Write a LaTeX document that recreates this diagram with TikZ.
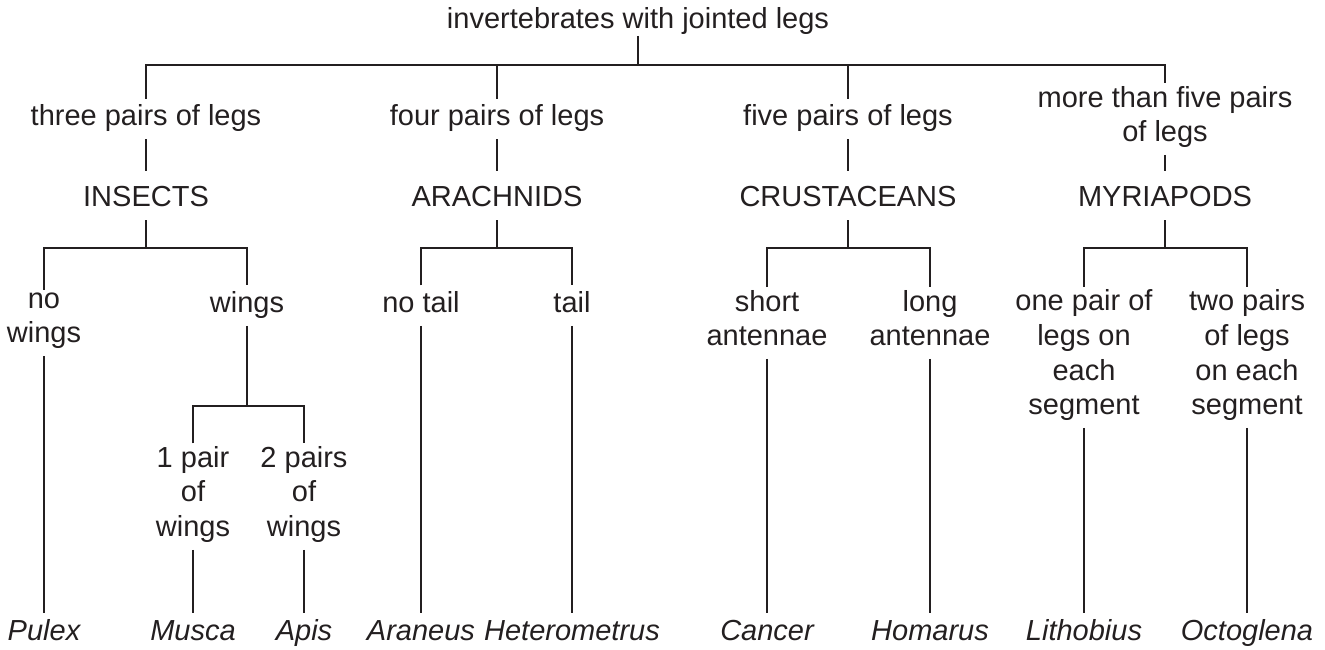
\documentclass[tikz,border=0pt]{standalone}
\usepackage{fontspec}
\setmainfont{Liberation Sans}
\definecolor{KeyInk}{HTML}{231F20}
\usepackage{tikz}
\usetikzlibrary{positioning}

\begin{document}
\begin{tikzpicture}[x=0.5pt, y=-0.5pt, line width=0.9pt, draw=KeyInk,
    every node/.style={text=KeyInk, font=\fontsize{14.5}{17.3}\selectfont, align=center,
      inner xsep=2pt, inner ysep=1pt,
      execute at begin node=\strut, execute at end node=\strut},
    toplbl/.style={inner ysep=0pt, text depth=3.5pt},
    grplbl/.style={text height=16.3pt, text depth=5.2pt},
    genus/.style={font=\fontsize{14.5}{17.3}\selectfont\itshape}]
  \useasboundingbox (0,0) rectangle (1325,649);
  % root and main groups
  \node[toplbl] (root) at (638,19.4) {invertebrates with jointed legs};
  \coordinate (top) at (638,65);
  \node (three) at (146,119) {three pairs of legs};
  \node (four) at (497,119) {four pairs of legs};
  \node (five) at (848,119) {five pairs of legs};
  \node (more) at (1165,119) {more than five pairs\\of legs};
  \node[grplbl] (ins) at (146,195.6) {INSECTS};
  \node[grplbl] (arach) at (497,195.6) {ARACHNIDS};
  \node[grplbl] (crust) at (848,195.6) {CRUSTACEANS};
  \node[grplbl] (myria) at (1165,195.6) {MYRIAPODS};
  \coordinate (insj) at (146,248);
  \coordinate (arj) at (497,248);
  \coordinate (crj) at (848,248);
  \coordinate (myj) at (1165,248);
  % second split
  \node (nowings) at (44,323) {no\\wings};
  \node (wings) at (247,305.6) {wings};
  \coordinate (wj) at (247,406);
  \node (pair1) at (193,496.6) {1 pair\\of\\wings};
  \node (pair2) at (304,496.6) {2 pairs\\of\\wings};
  \node (notail) at (421,305.6) {no tail};
  \node (tail) at (572,305.6) {tail};
  \node (short) at (767,323) {short\\antennae};
  \node (long) at (930,323) {long\\antennae};
  \node (onepr) at (1084,357.4) {one pair of\\legs on\\each\\segment};
  \node (twopr) at (1247,357.4) {two pairs\\of legs\\on each\\segment};
  % genera
  \node[genus] (pulex) at (44,633.1) {Pulex};
  \node[genus] (musca) at (193,633.1) {Musca};
  \node[genus] (apis) at (304,633.1) {Apis};
  \node[genus] (araneus) at (421,633.1) {Araneus};
  \node[genus] (hetero) at (572,633.1) {Heterometrus};
  \node[genus] (cancer) at (767,633.1) {Cancer};
  \node[genus] (homarus) at (930,633.1) {Homarus};
  \node[genus] (litho) at (1084,633.1) {Lithobius};
  \node[genus] (octo) at (1247,633.1) {Octoglena};
  % connectors
  \draw (root) -- (top);
  \draw (three) |- (top) -| (more);
  \draw (four) -- (four |- top);
  \draw (five) -- (five |- top);
  \draw (three) -- (ins);
  \draw (four) -- (arach);
  \draw (five) -- (crust);
  \draw (more) -- (myria);
  \draw (ins) -- (insj);
  \draw (nowings) |- (insj) -| (wings);
  \draw (arach) -- (arj);
  \draw (notail) |- (arj) -| (tail);
  \draw (crust) -- (crj);
  \draw (short) |- (crj) -| (long);
  \draw (myria) -- (myj);
  \draw (onepr) |- (myj) -| (twopr);
  \draw (wings) -- (wj);
  \draw (pair1) |- (wj) -| (pair2);
  \draw (nowings) -- (pulex);
  \draw (pair1) -- (musca);
  \draw (pair2) -- (apis);
  \draw (notail) -- (araneus);
  \draw (tail) -- (hetero);
  \draw (short) -- (cancer);
  \draw (long) -- (homarus);
  \draw (onepr) -- (litho);
  \draw (twopr) -- (octo);
\end{tikzpicture}
\end{document}
